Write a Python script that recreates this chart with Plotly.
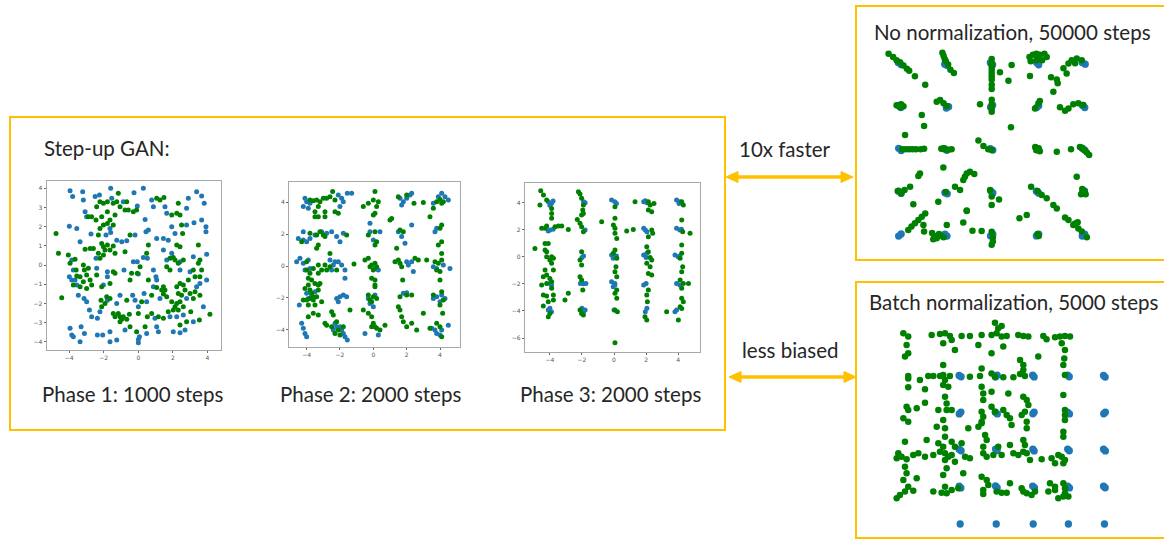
import plotly.graph_objects as go

# ---------------------------------------------------------------------------
# Sample data: blue = real samples (25-Gaussian grid), green = generated samples
# ---------------------------------------------------------------------------

phase1_real = [
    (-3.95, 3.88), (-3.8, 3.57), (-3.22, 3.83), (-3.18, 3.39), (-2.5, 3.57), (-2.25, 3.65),
    (-1.6, 4.0), (-1.54, 3.48), (-0.87, 3.3), (-0.25, 3.77), (0.29, 4.0), (-0.06, 3.08),
    (0.77, 3.39), (0.87, 3.04), (1.54, 3.04), (1.64, 2.7), (2.89, 3.48), (3.37, 3.83),
    (3.66, 3.6), (3.81, 3.22), (2.79, 2.96),
    (-3.99, 2.03), (-3.56, 1.91), (-3.08, 2.78), (-2.99, 2.52), (-2.74, 1.62), (-1.87, 1.57),
    (-1.64, 1.91), (-1.6, 1.7), (-1.25, 1.3), (-0.96, 1.22), (-0.67, 1.27), (-0.19, 1.57),
    (0.39, 2.38), (0.44, 1.74), (0.58, 1.83), (1.06, 1.39), (1.45, 1.39), (1.73, 1.3),
    (1.93, 2.0), (2.12, 1.65), (2.79, 2.09), (3.22, 2.21), (3.66, 2.35), (3.91, 2.0),
    (3.91, 1.74), (3.95, 0.57),
    (-3.37, 1.22), (-3.85, 0.26), (-3.76, -0.26), (-3.99, -0.61), (-3.85, -0.78), (-3.66, -0.78),
    (-3.56, -1.04), (-3.47, -1.57), (-3.14, -1.74), (-2.99, -1.91), (-2.45, 0.35), (-2.41, -0.17),
    (-1.79, -0.35), (-1.79, -0.61), (-2.02, -1.04), (-0.83, -0.26), (-0.29, 0.17), (-0.06, 0.17),
    (0.0, -0.47), (0.29, 0.4), (0.52, 0.35), (0.87, -0.26), (1.02, -0.61), (1.45, 0.78),
    (1.64, 0.26), (1.93, 0.61), (2.41, -0.26), (2.41, 0.17), (2.99, -0.35), (3.18, 0.43),
    (3.56, -0.96), (3.95, -0.78),
    (-2.83, -2.35), (-2.7, -2.7), (-2.37, -2.78), (-2.22, -2.43), (-1.79, -1.83), (-1.25, -2.0),
    (-1.06, -1.57), (-0.33, -1.57), (-0.19, -1.83), (0.0, -2.17), (0.33, -1.48), (0.48, -1.91),
    (0.87, -1.13), (1.06, -0.78), (0.96, -2.78), (1.25, -1.74), (1.83, -2.7), (2.22, -2.7),
    (2.6, -2.61), (2.79, -1.74), (3.37, -1.13), (3.76, -2.17), (3.18, -2.96),
    (-3.95, -3.3), (-3.85, -3.65), (-3.76, -3.74), (-3.37, -4.0), (-3.31, -3.22), (-3.12, -3.57),
    (-2.37, -3.65), (-2.06, -3.65), (-1.64, -3.48), (-1.64, -4.0), (-1.25, -3.91), (-0.77, -3.39),
    (0.0, -3.88), (0.0, -4.05), (0.06, -3.74), (0.48, -3.57), (1.06, -3.22), (1.16, -3.48),
    (2.02, -3.48), (2.41, -3.53), (2.7, -3.39),
]

phase1_fake = [
    (-4.76, 1.65), (-4.62, 0.61), (-4.43, -1.7), (-4.05, 0.52), (-3.95, 0.09), (-3.66, 0.3),
    (-3.6, -0.26), (-3.56, -0.57), (-3.37, -1.13), (-3.18, 0.0), (-3.12, -0.26), (-2.99, -0.52),
    (-2.89, -0.17), (-2.79, -0.78), (-3.08, 0.82), (-2.79, 0.87), (-2.6, 0.87), (-2.31, 0.61),
    (-2.22, 0.35), (-2.02, 0.52), (-2.12, 1.13), (-2.02, 0.96), (-1.93, 0.78), (-1.79, 1.04),
    (-1.64, 0.78), (-1.45, 0.99), (-1.35, 0.61), (-2.31, 1.57), (-2.22, 1.91), (-2.02, 2.09),
    (-1.79, 2.17), (-1.64, 2.35), (-1.45, 2.09), (-2.12, 2.52), (-2.45, 2.35), (-2.7, 2.52),
    (-2.02, 3.22), (-1.79, 3.3), (-1.45, 3.22), (-1.25, 3.3), (-1.16, 3.74), (-1.06, 3.04),
    (-0.67, 3.3), (-0.58, 2.87), (-0.29, 2.78), (-0.1, 2.87), (-0.77, 2.87), (-1.79, 2.78),
    (-1.35, 2.61), (-2.41, 3.04), (-2.22, 3.3), (-2.89, 2.52), (-0.77, 0.7), (-0.48, 1.57),
    (0.58, 1.04), (0.48, 0.61), (0.1, -0.09), (-0.06, -0.43), (0.58, -0.78),
    (1.06, 3.48), (1.25, 3.39), (1.48, 3.53), (2.31, 3.22), (2.41, 2.61), (2.22, 2.7),
    (1.93, 2.61), (2.5, 2.09), (2.56, 1.65), (2.22, 1.04), (2.41, 0.96), (1.83, 0.35),
    (2.02, 0.4), (2.12, 0.26), (2.31, 0.09), (1.64, -0.09), (1.83, -0.26), (2.6, 0.26),
    (3.47, 1.04), (3.56, 0.26), (3.47, 0.09), (3.18, -0.26), (3.28, -0.61), (3.56, -0.61),
    (3.66, -0.26), (2.89, -0.78), (2.6, -1.04), (2.41, -0.96), (2.7, -1.3), (2.99, -1.48),
    (3.18, -1.74), (3.28, -1.39), (3.56, -1.57), (1.45, -1.13), (1.54, -1.3), (1.35, -1.3),
    (1.45, -1.51), (1.64, -1.65), (1.93, -1.91), (2.22, -2.0), (2.12, -2.17), (2.31, -2.35),
    (2.02, -2.35), (2.6, -2.17), (2.41, -1.91), (2.5, -1.57), (2.31, -1.48), (2.22, -1.13),
    (1.73, -2.43), (1.45, -2.78), (3.03, -2.43), (3.53, -2.87), (4.14, -2.56), (2.79, -2.96),
    (2.41, -3.13),
    (-2.41, -0.52), (-2.12, -1.13), (-1.64, -0.96), (-1.45, -0.35), (-1.35, -0.43), (-2.7, -1.04),
    (-3.18, -0.87), (-2.99, -1.22), (-3.37, -0.61), (-3.76, -1.04), (-1.83, -1.65), (-1.64, -1.74),
    (-2.16, -1.83), (-2.12, -2.17), (-1.93, -2.0), (-1.45, -2.52), (-1.35, -2.7), (-1.16, -2.52),
    (-1.06, -2.7), (-0.96, -2.83), (-0.87, -2.7), (-0.67, -2.83), (-0.52, -2.56), (0.0, -2.52),
    (-1.06, -2.96), (-0.48, -3.22), (-0.1, -3.48), (0.39, -3.22), (0.52, -2.7), (0.77, -2.52),
    (1.16, -2.7), (-0.67, -1.83), (-0.48, -0.78), (0.19, -1.91), (0.77, -1.57), (1.06, -1.17),
    (-0.39, -0.43),
]

phase2_real = [
    (-4.1, 4.24), (-4.0, 4.03), (-4.2, 3.72), (-3.9, 3.61), (-3.8, 3.93), (-2.1, 4.45),
    (-1.9, 4.24), (-1.8, 4.03), (-1.56, 4.55), (-1.3, 4.55), (-2.0, 3.72), (1.6, 4.24),
    (1.8, 4.03), (2.0, 4.24), (2.2, 4.45), (2.3, 4.55), (1.7, 3.82), (3.6, 3.93),
    (4.1, 4.55), (4.3, 4.34), (4.5, 4.13), (3.9, 4.34),
    (-4.5, 1.73), (-4.2, 2.15), (-4.2, 1.63), (-4.0, 1.52), (-3.8, 1.73), (-3.5, 1.94),
    (-3.1, 2.15), (-2.8, 2.05), (-2.5, 2.15), (-2.2, 1.84), (-2.0, 1.52), (-1.8, 2.05),
    (-0.2, 2.67), (-0.2, 2.15), (0.0, 1.63), (0.4, 2.15), (1.5, 2.15), (1.7, 1.84),
    (1.9, 1.42), (2.3, 2.57), (3.7, 2.15), (3.8, 2.36),
    (-4.6, 0.27), (-4.4, 0.48), (-4.2, 0.17), (-4.1, -0.25), (-3.8, -0.15), (-3.9, 0.38),
    (-2.6, 0.38), (-2.4, 0.06), (-2.3, 0.27), (-2.1, 0.27), (-1.9, 0.06), (-1.7, -0.25),
    (-2.5, -0.25), (-1.7, -0.77), (0.1, -0.15), (0.3, -0.25), (2.0, 0.27), (2.1, 0.06),
    (2.3, 0.27), (2.4, -0.35), (3.6, -0.04), (3.8, -0.15), (4.2, 0.06), (4.6, -0.15),
    (-4.0, -1.71), (-3.9, -2.03), (-3.7, -1.82), (-3.5, -1.61), (-4.44, -2.44), (-2.2, -2.03),
    (-2.0, -1.92), (-1.8, -1.82), (-1.6, -1.92), (-2.1, -2.24), (-0.3, -2.03), (-0.2, -2.34),
    (0.0, -2.55), (0.1, -1.82), (1.8, -1.71), (2.0, -1.67), (3.6, -2.03), (3.8, -1.92),
    (4.1, -1.82), (4.3, -2.03), (4.0, -2.24),
    (-4.3, -3.59), (-4.2, -3.9), (-4.1, -4.22), (-4.0, -4.43), (-2.3, -3.59), (-2.2, -3.8),
    (-2.0, -3.8), (-1.9, -4.0), (-1.8, -4.22), (-1.7, -4.43), (-1.56, -4.63), (-2.4, -4.0),
    (-0.5, -4.22), (0.3, -4.32), (3.5, -3.9), (3.7, -4.0), (3.8, -4.22), (4.0, -4.32),
    (4.1, -4.0), (4.5, -3.7),
]

phase2_fake = [
    (-3.8, 4.13), (-3.6, 4.09), (-3.4, 4.13), (-3.2, 4.03), (-3.0, 4.24), (-2.8, 4.24),
    (-2.6, 4.34), (-2.44, 4.66), (-2.3, 4.13), (-3.3, 3.72), (-2.9, 3.4), (-2.3, 3.4),
    (-3.5, 3.09), (-3.3, 3.09), (-2.9, 3.09), (-3.5, 3.4), (-2.1, 3.3), (-0.6, 3.72),
    (-0.3, 3.93), (0.0, 4.13), (0.1, 4.66), (0.2, 3.72), (0.3, 4.03), (0.1, 3.3),
    (0.0, 3.19), (1.0, 2.88), (1.1, 2.98), (1.5, 4.34), (2.0, 4.45), (2.44, 3.93),
    (3.0, 3.97), (3.6, 3.61), (3.8, 4.03), (4.0, 4.17), (4.2, 4.03), (4.1, 3.93),
    (3.4, 3.09),
    (-4.3, 1.52), (-3.8, 2.05), (-3.4, 1.94), (-3.2, 2.15), (-3.0, 1.94), (-2.9, 1.84),
    (-3.3, 1.32), (-3.4, 1.11), (-2.6, 0.79), (-1.6, 1.94), (-0.3, 1.94), (0.1, 2.15),
    (0.2, 1.52), (0.1, 1.32), (1.6, 2.25), (1.8, 2.15), (1.4, 1.11), (4.1, 2.57),
    (4.0, 2.36), (4.1, 1.52), (3.9, 1.32), (4.1, 0.79),
    (-4.0, 0.27), (-4.0, -0.25), (-3.8, -0.46), (-3.7, -0.88), (-3.9, -0.77), (-3.6, -0.15),
    (-3.3, 0.06), (-3.1, -0.25), (-3.3, -0.46), (-3.5, -1.09), (-3.2, -1.09), (-2.8, -0.25),
    (-2.9, 0.06), (-2.6, -0.04), (-2.2, -0.25), (-1.16, 0.13), (-0.5, 0.38), (-0.3, 0.48),
    (-0.2, -0.04), (-0.1, 0.06), (0.1, 0.17), (0.0, -0.25), (0.2, -0.04), (-0.1, -0.77),
    (0.1, -0.88), (0.1, -1.19), (1.3, 0.27), (1.5, 0.38), (1.6, 0.17), (1.7, -0.04),
    (2.5, 0.48), (2.7, 0.38), (3.2, 0.38), (3.7, 0.27), (3.9, 0.17), (4.1, 0.38),
    (4.0, -0.35), (3.8, -0.25), (4.0, -0.88), (1.76, -0.88),
    (-4.1, -1.4), (-3.9, -1.19), (-3.8, -1.5), (-3.7, -1.71), (-3.6, -1.92), (-3.8, -2.03),
    (-3.6, -2.13), (-3.4, -1.92), (-4.0, -2.13), (-3.9, -2.44), (-3.5, -2.44), (-4.2, -2.13),
    (-3.3, -1.5), (-3.1, -2.24), (-3.3, -1.19), (-0.3, -1.82), (0.0, -1.92), (-0.2, -2.13),
    (-0.1, -2.24), (0.2, -2.03), (0.1, -1.3), (1.6, -1.92), (2.0, -1.82), (1.5, -2.55),
    (1.6, -2.76), (2.3, -1.82), (3.6, -1.82), (4.1, -1.61), (4.2, -2.13), (4.0, -2.44),
    (-1.4, -2.76),
    (-3.9, -3.17), (-3.6, -2.96), (-3.3, -3.07), (-2.9, -3.59), (-2.8, -3.7), (-2.5, -2.86),
    (-2.4, -3.07), (-2.2, -3.49), (-2.5, -3.8), (-2.3, -4.22), (-2.1, -4.0), (-2.0, -4.32),
    (-1.8, -3.8), (-0.6, -2.76), (-0.3, -2.96), (-0.1, -3.17), (0.0, -3.59), (0.1, -3.8),
    (-0.1, -3.8), (0.2, -3.9), (0.7, -3.7), (0.4, -4.0), (1.7, -3.17), (1.8, -3.49),
    (2.0, -3.8), (2.3, -3.59), (2.6, -4.0), (3.0, -2.96), (3.4, -3.9), (4.0, -3.8),
    (4.16, -2.96), (4.1, -4.43), (3.8, -3.59),
]

phase3_real = [
    (-4.1, 4.05), (-3.9, 3.93), (-4.0, 3.8), (-3.8, 4.1),
    (-4.0, 1.97), (-3.8, 2.02), (-4.1, 1.9),
    (-4.0, -1.97), (-3.9, -2.1),
    (-4.1, -3.93), (-4.0, -3.8), (-3.9, -4.05),
    (-1.9, 4.05), (-1.8, 3.98), (-1.8, 1.97), (-2.0, -0.05), (-1.9, 0.05),
    (-2.1, -1.97), (-1.9, -2.0), (-1.75, -1.97), (-2.0, -3.8), (-1.9, -4.05), (-1.8, -3.93),
    (-0.15, 4.18), (0.05, 4.05), (0.15, 3.93), (-0.15, 0.12), (0.05, 0.0), (0.15, 0.05),
    (-0.05, -0.12), (-0.15, -1.84), (0.05, -2.09), (-0.05, -2.21), (0.05, -1.97), (0.0, -3.93),
    (1.85, 4.05), (2.05, 3.98), (1.95, 4.13), (1.85, 2.09), (1.95, 1.97), (2.05, 1.84),
    (1.85, 0.12), (2.05, 0.25), (2.0, -0.05), (1.85, -2.09), (2.0, -1.97), (2.05, -3.8),
    (1.95, -4.05),
    (3.9, 4.18), (4.1, 4.05), (4.05, 3.93), (3.9, 2.09), (4.1, 1.97), (4.2, 2.02),
    (3.8, 0.12), (4.0, 0.0), (4.1, 0.05), (3.9, -1.97), (4.1, -2.09), (3.9, -3.93),
    (3.8, -4.05),
]

phase3_fake = [
    (-4.57, 4.86), (-4.4, 4.55), (-4.62, 3.81), (-4.2, 4.18), (-3.89, 3.56), (-3.89, 3.19),
    (-3.89, 2.83), (-4.51, 2.09), (-4.3, 2.09), (-4.2, 2.26), (-3.68, 2.21), (-3.47, 2.26),
    (-3.26, 2.26), (-2.85, 2.01), (-4.93, 0.61), (-4.3, 0.98), (-4.1, 0.98), (-4.3, 0.49),
    (-4.2, 0.37), (-4.2, 0.0), (-3.89, 0.0), (-4.0, -0.25), (-3.78, -0.12), (-3.89, -0.49),
    (-4.3, -0.98), (-3.78, -0.98), (-4.41, -1.47), (-4.2, -1.35), (-4.0, -1.6), (-4.2, -1.97),
    (-3.89, -1.84), (-4.51, -2.09), (-3.89, -2.33), (-4.41, -2.83), (-4.2, -2.9), (-3.78, -2.83),
    (-3.78, -3.19), (-4.1, -3.32), (-4.41, -3.64), (-4.0, -4.18), (-4.1, -4.42), (-2.85, -2.7),
    (-3.06, -3.19),
    (-2.22, 4.79), (-2.12, 4.62), (-2.02, 4.3), (-1.91, 3.81), (-1.95, 3.44), (-2.02, 3.07),
    (-1.91, 3.19), (-2.29, 2.75), (-2.12, 2.46), (-2.02, 2.21), (-1.91, 1.84), (-2.02, 0.37),
    (-2.12, -0.25), (-2.02, -0.61), (-2.12, -1.47), (-2.02, -1.72), (-1.95, -2.46),
    (-2.12, -3.93), (-2.02, -4.18), (-1.91, -4.3),
    (0.06, 3.69), (0.06, 2.83), (-0.04, 2.33), (0.06, 2.09), (0.06, 1.72), (0.17, 1.35),
    (-0.77, 2.58), (0.79, 1.89), (1.2, 2.01), (0.06, 0.49), (-0.04, 0.25), (0.17, -0.12),
    (0.12, -0.74), (0.06, -1.11), (0.17, -1.47), (0.17, -2.46), (0.06, -2.7), (0.17, -3.07),
    (0.06, -3.93), (0.21, -4.05), (0.06, -6.34),
    (1.31, 4.05), (2.14, 4.05), (2.25, 3.81), (2.14, 3.44), (2.35, 3.32), (2.49, 3.93),
    (2.35, 1.97), (2.41, 1.72), (2.14, 1.47), (2.04, 0.74), (2.14, 0.37), (2.25, -0.05),
    (2.35, -0.25), (2.04, -0.49), (2.25, -0.74), (2.14, -1.23), (2.35, -1.35), (2.14, -2.46),
    (2.04, -2.83), (2.08, -3.32), (1.93, -4.42), (2.04, -4.67), (3.28, -4.05),
    (4.22, 4.05), (4.32, 3.81), (4.22, 2.7), (4.28, 1.84), (4.74, 1.72), (4.22, 0.86),
    (4.22, 0.25), (4.12, -0.12), (4.28, -0.74), (4.22, -1.11), (4.12, -1.72), (4.32, -1.97),
    (4.64, -1.97), (4.22, -2.33), (4.22, -3.07), (4.32, -3.32), (4.12, -3.69), (4.01, -4.67),
    (4.22, -3.81),
]

no_norm_real = [
    (-4.08, 4.04), (-3.95, 3.94), (-2.05, 3.96), (-1.94, 3.9), (-0.06, 4.03), (0.04, 3.94),
    (2.05, 3.93), (1.96, 4.04), (4.08, 3.96), (3.95, 4.04),
    (-4.06, 2.04), (-3.96, 1.94), (-1.98, 1.92), (-1.88, 1.98), (-0.05, 1.96), (0.04, 2.05),
    (1.96, 1.94), (2.05, 2.03), (4.06, 1.94), (3.96, 2.04),
    (-4.06, 0.04), (-3.95, -0.06), (-2.06, 0.02), (-1.96, -0.05), (-0.06, 0.03), (0.05, -0.04),
    (1.94, 0.05), (2.04, -0.03), (3.95, 0.05), (4.06, -0.04),
    (-4.06, -1.96), (-3.95, -2.06), (-2.04, -2.03), (-1.94, -2.08), (-0.04, -1.95), (0.05, -2.04),
    (1.95, -1.96), (2.05, -2.05), (3.96, -2.04), (4.05, -1.94),
    (-4.06, -4.05), (-3.95, -3.95), (-2.04, -3.96), (-1.95, -4.05), (-0.05, -4.04), (0.05, -3.96),
    (1.95, -4.04), (2.05, -3.96), (3.95, -4.05), (4.06, -3.96),
]

no_norm_fake = [
    (-4.5, 4.45), (-4.3, 4.3), (-4.15, 4.15), (-4.0, 4.05), (-3.85, 3.9), (-3.7, 3.75),
    (-3.6, 3.65), (-3.35, 3.4), (-2.9, 3.0),
    (-2.15, 4.5), (-2.1, 4.35), (-2.05, 4.2), (-2.0, 4.1), (-1.9, 3.95), (-1.8, 3.7),
    (-1.65, 3.55),
    (0.0, 4.2), (0.0, 4.0), (0.0, 3.85), (0.0, 3.7), (0.0, 3.55), (0.0, 3.4), (0.0, 3.25),
    (0.0, 3.0), (0.0, 2.8), (0.36, 3.58), (0.73, 3.19), (0.87, 3.92),
    (1.65, 4.3), (1.8, 4.4), (1.95, 4.45), (2.1, 4.4), (2.3, 4.45), (2.4, 4.3), (1.7, 4.1),
    (1.95, 4.15), (2.2, 4.15), (2.0, 4.3), (1.67, 3.41), (2.59, 3.35), (2.84, 3.25),
    (2.88, 3.07), (2.69, 2.68),
    (3.49, 4.15), (3.71, 4.23), (3.93, 4.15), (3.35, 3.99), (3.13, 3.77), (3.27, 3.53),
    (3.64, 4.0),
    (-4.15, 2.05), (-4.0, 1.95), (-3.85, 2.0), (-3.95, 2.1), (-3.05, 1.59), (-2.95, 1.08),
    (-3.78, 0.66),
    (-2.4, 2.21), (-2.25, 2.29), (-2.1, 2.14), (-1.96, 2.01),
    (0.0, 2.3), (0.0, 2.1), (0.0, 1.9), (0.0, 1.75), (-0.51, 2.09),
    (2.04, 2.14), (1.89, 1.9), (2.1, 2.25), (0.84, 1.02),
    (3.56, 2.1), (3.78, 2.14), (4.0, 2.06), (2.98, 1.95), (3.2, 1.79), (3.35, 1.9),
    (-3.9, 0.0), (-3.75, 0.0), (-3.6, 0.0), (-3.45, 0.0), (-3.3, 0.0), (-3.1, 0.0),
    (-2.95, 0.02),
    (-2.2, 0.02), (-2.05, 0.0), (-1.9, -0.02), (-1.75, 0.0), (-2.1, 0.05),
    (-0.58, 0.4), (-0.36, 0.15), (-0.15, 0.0), (0.0, -0.04),
    (1.9, 0.1), (2.05, 0.05), (2.1, -0.1), (1.95, -0.05), (2.84, -0.12), (3.46, 0.0),
    (3.85, 0.1), (3.95, 0.05), (4.05, -0.05), (4.15, -0.15), (4.25, -0.27), (3.71, -1.28),
    (-4.1, -1.95), (-3.95, -2.05), (-3.8, -1.9), (-3.56, -1.75), (-3.42, -2.57), (-3.13, -1.13),
    (-3.2, -1.25),
    (-2.0, -2.0), (-2.33, -2.45), (-2.11, -0.85), (-1.6, -1.75), (-1.38, -1.9), (-1.24, -1.44),
    (-1.09, -1.13), (-0.95, -1.05), (-0.76, -1.16), (-1.17, -1.28),
    (-0.07, -1.9), (0.0, -2.2), (0.32, -2.34), (0.0, -2.6), (-1.09, -2.88),
    (1.72, -1.75), (2.0, -1.95), (2.18, -2.14), (2.4, -2.29), (2.69, -2.6), (2.84, -2.76),
    (3.95, -1.85), (4.05, -2.0), (4.1, -2.1), (3.9, -2.1), (3.2, -3.18), (3.64, -3.46),
    (3.75, -3.4),
    (-3.64, -3.77), (-3.5, -3.6), (-3.35, -3.45), (-3.2, -3.3), (-3.05, -3.15), (-2.9, -3.0),
    (-2.98, -3.53), (-2.95, -3.84),
    (-2.6, -3.9), (-2.5, -4.05), (-2.4, -4.15), (-2.55, -4.2), (-2.3, -3.95), (-2.2, -4.05),
    (-2.1, -4.1), (-1.96, -3.53), (-1.24, -3.42), (-1.09, -2.86), (-0.84, -3.8), (-0.44, -3.81),
    (0.0, -3.85), (0.05, -4.1), (0.05, -4.3), (0.0, -4.45), (1.21, -3.22), (1.53, -3.07),
    (2.0, -3.95), (2.05, -4.05),
    (3.35, -3.3), (3.56, -3.53), (3.78, -3.69), (3.93, -3.84), (4.15, -4.1),
]

batch_norm_real = [
    (-4.06, 4.03), (-3.95, 3.96), (-2.04, 3.94), (-1.95, 4.04), (0.02, 4.04), (0.1, 3.95),
    (2.05, 3.96), (1.96, 4.05), (4.04, 3.94), (3.95, 4.03),
    (-4.05, 1.95), (-3.96, 2.05), (-2.05, 2.04), (-1.94, 1.95), (0.03, 1.96), (0.1, 2.04),
    (1.95, 2.05), (2.06, 1.95), (3.96, 1.96), (4.05, 2.04),
    (-4.06, 0.04), (-3.95, -0.04), (-2.04, 0.05), (-1.95, -0.03), (0.03, 0.04), (0.1, -0.05),
    (1.96, 0.05), (2.05, -0.04), (3.95, 0.04), (4.05, -0.05),
    (-4.05, -1.96), (-3.96, -2.05), (-2.04, -1.94), (-1.95, -2.04), (0.02, -1.95), (0.12, -2.04),
    (1.96, -1.96), (2.06, -2.05), (3.95, -1.96), (4.04, -2.04),
    (-4.0, -4.0), (-2.0, -4.0), (0.05, -4.0), (2.0, -4.0), (4.0, -4.0),
]

batch_norm_fake = [
    (-7.15, 6.31), (-6.88, 6.13), (-5.58, 6.22), (-5.12, 6.27), (-4.84, 6.31), (-4.57, 6.16),
    (-4.47, 5.95), (-3.92, 6.16), (-3.46, 6.16), (-2.81, 6.22), (-2.26, 6.22), (-1.98, 6.31),
    (-1.7, 6.13), (-1.42, 6.16), (-0.78, 6.22), (-0.5, 6.16), (-0.22, 6.13), (0.61, 6.16),
    (0.79, 5.98), (1.26, 6.09), (1.53, 6.13), (1.81, 6.16), (2.09, 6.13), (-2.07, 6.88),
    (-1.7, 6.7), (-1.89, 6.58),
    (-6.97, 5.68), (-6.88, 5.23), (-7.06, 5.05), (-4.94, 5.77), (-4.29, 5.41), (-2.99, 5.68),
    (-2.26, 5.23), (-1.61, 5.59), (-0.68, 4.86), (-0.5, 4.59), (0.33, 5.05), (1.63, 5.77),
    (1.81, 5.41), (1.77, 4.95), (1.72, 4.59),
    (-6.88, 4.0), (-6.88, 3.87), (-6.23, 3.78), (-5.77, 4.0), (-5.49, 4.0), (-5.12, 4.0),
    (-4.94, 4.05), (-4.84, 3.78), (-4.57, 4.0), (-3.46, 3.96), (-2.9, 4.0), (-2.81, 4.41),
    (-2.26, 4.14), (-2.07, 3.96), (-1.61, 3.93), (-1.05, 3.93), (-0.68, 4.11), (-0.5, 4.32),
    (-0.41, 4.0), (1.81, 4.05), (-4.94, 4.59),
    (-6.88, 3.39), (-5.95, 3.28), (-4.94, 3.51), (-4.66, 3.42), (-4.84, 2.88), (-4.75, 2.52),
    (-2.81, 3.42), (-2.72, 3.06), (-2.72, 2.7), (-2.26, 3.15), (-1.33, 3.06), (-0.5, 2.88),
    (-0.31, 2.7), (-0.22, 2.43), (1.72, 2.97), (-5.95, 2.56), (-6.41, 2.25),
    (-6.97, 2.34), (-6.88, 2.16), (-7.15, 1.71), (-6.88, 1.53), (-5.21, 2.16), (-4.75, 2.16),
    (-4.47, 2.16), (-4.94, 1.62), (-2.81, 2.07), (-2.72, 1.8), (-2.81, 1.53), (-2.26, 2.34),
    (-2.07, 2.07), (-1.61, 2.16), (-1.42, 1.89), (-1.24, 1.71), (-1.15, 1.35), (-0.59, 1.89),
    (-0.41, 2.07), (-0.31, 1.53), (-0.31, 1.17), (1.81, 2.16), (1.81, 1.89), (1.81, 1.62),
    (1.72, 0.99), (1.72, 0.72), (-5.3, 1.26), (-4.84, 1.17), (-3.55, 1.17), (-2.99, 1.26),
    (-2.81, 1.44),
    (-7.06, 0.45), (-5.86, 0.54), (-5.21, 0.36), (-4.84, 0.72), (-4.94, 0.18), (-4.47, 0.45),
    (-4.29, 0.18), (-3.92, 0.36), (-2.62, 0.81), (-2.53, 0.54), (-2.72, 0.18), (-1.89, 0.18),
    (-1.24, 0.27), (-0.5, 0.54), (-0.41, 0.27),
    (-7.43, -0.18), (-7.52, -0.45), (-7.25, -0.36), (-6.97, -0.5), (-6.6, -0.27), (-6.32, -0.18),
    (-5.95, -0.36), (-5.49, -0.27), (-5.12, -0.09), (-4.84, -0.18), (-4.66, -0.36), (-4.47, -0.27),
    (-4.84, -0.54), (-4.29, -0.63), (-3.73, -0.36), (-3.46, -0.45), (-2.72, -0.18), (-2.53, -0.36),
    (-2.16, -0.27), (-1.7, -0.27), (-1.05, -0.18), (-0.78, -0.27), (-0.5, -0.09), (-0.31, -0.18),
    (-0.13, -0.54), (0.52, -0.5), (1.07, -0.45), (1.26, -0.72), (1.63, -0.36), (1.72, -0.72),
    (1.81, -0.54), (1.44, -0.27),
    (-7.06, -0.9), (-6.97, -1.26), (-7.15, -1.62), (-6.41, -1.53), (-4.94, -1.35), (-4.75, -0.99),
    (-3.83, -1.26), (-2.81, -1.44), (-2.53, -1.62), (-2.44, -1.89), (-1.24, -1.8), (0.98, -1.8),
    (1.26, -1.98), (1.72, -1.8), (1.81, -2.07),
    (-7.52, -2.61), (-7.34, -2.43), (-7.06, -2.25), (-6.88, -1.98), (-6.6, -2.2), (-5.49, -2.25),
    (-5.03, -2.31), (-4.84, -1.98), (-4.75, -2.34), (-4.47, -2.16), (-4.1, -2.07), (-2.72, -2.16),
    (-2.72, -2.38), (-1.98, -2.25), (-1.7, -2.31), (-1.42, -2.31), (-0.59, -2.07), (-0.5, -2.25),
    (-0.31, -2.34), (-0.04, -2.43), (0.15, -2.25), (0.89, -2.25), (1.44, -2.61), (1.72, -2.52),
    (1.81, -2.34), (2.0, -2.52), (1.26, -2.16),
]

# Text
main_title = "Step-up GAN:"
phase_labels = ["Phase 1: 1000 steps", "Phase 2: 2000 steps", "Phase 3: 2000 steps"]
right_titles = ["No normalization, 50000 steps", "Batch normalization, 5000 steps"]
arrow_labels = ["10x faster", "less biased"]

# ---------------------------------------------------------------------------
# Layout helpers (canvas is 1164 x 540 px)
# ---------------------------------------------------------------------------
W, H = 1164, 540
REAL = "#1f77b4"
FAKE = "#008000"
GOLD = "#FFC000"
TEXT = "#262626"
FONT = "Lato"


def px(x):
    return x / W


def py(y):
    return 1 - y / H


fig = go.Figure()

# frame in px (x0, x1, y0, y1), axis ranges, marker size, tick settings
panels = [
    dict(data=(phase1_real, phase1_fake), box=(46.7, 221.0, 180.7, 350.0),
         xr=[-5.3, 4.78], yr=[-4.43, 4.4], size=5.0, xt=[-4, -2, 0, 2, 4],
         yt=[-4, -3, -2, -1, 0, 1, 2, 3, 4], axes=True),
    dict(data=(phase2_real, phase2_fake), box=(289.3, 460.0, 182.3, 346.7),
         xr=[-5.04, 5.2], yr=[-5.05, 5.24], size=5.0, xt=[-4, -2, 0, 2, 4],
         yt=[-4, -2, 0, 2, 4], axes=True),
    dict(data=(phase3_real, phase3_fake), box=(525.0, 700.0, 183.3, 351.7),
         xr=[-5.55, 5.36], yr=[-7.0, 5.41], size=5.0, xt=[-4, -2, 0, 2, 4],
         yt=[-6, -4, -2, 0, 2, 4], axes=True),
    dict(data=(no_norm_real, no_norm_fake), box=(877.1, 1106.3, 41.9, 256.5),
         xr=[-5, 5], yr=[-5, 5], size=6.5, axes=False),
    dict(data=(batch_norm_real, batch_norm_fake), box=(879.0, 1122.5, 311.25, 538.8),
         xr=[-8.5, 5], yr=[-4.8, 7.5], size=6.5, axes=False),
]

layout_axes = {}
for i, p in enumerate(panels, start=1):
    real, fake = p["data"]
    xa = "x" if i == 1 else f"x{i}"
    ya = "y" if i == 1 else f"y{i}"
    real_size = p["size"] + (0.8 if not p["axes"] else 0)
    fig.add_trace(go.Scatter(
        x=[a for a, _ in real], y=[b for _, b in real], mode="markers",
        marker=dict(color=REAL, size=real_size, line=dict(width=0)),
        xaxis=xa, yaxis=ya, hoverinfo="skip", showlegend=False))
    fig.add_trace(go.Scatter(
        x=[a for a, _ in fake], y=[b for _, b in fake], mode="markers",
        marker=dict(color=FAKE, size=p["size"], line=dict(width=0)),
        xaxis=xa, yaxis=ya, hoverinfo="skip", showlegend=False))

    x0, x1, y0, y1 = p["box"]
    common = dict(showgrid=False, zeroline=False, fixedrange=True)
    if p["axes"]:
        tick = dict(ticks="outside", ticklen=2, tickwidth=0.8, tickcolor="#666",
                    tickfont=dict(size=6, color="#555", family="DejaVu Sans"),
                    showline=True, mirror=True, linecolor="#a8a8a8", linewidth=1.4)
        xaxis = dict(domain=[px(x0), px(x1)], range=p["xr"], tickvals=p["xt"],
                     anchor=ya, **tick, **common)
        yaxis = dict(domain=[py(y1), py(y0)], range=p["yr"], tickvals=p["yt"],
                     anchor=xa, **tick, **common)
    else:
        xaxis = dict(domain=[px(x0), px(x1)], range=p["xr"], visible=False,
                     anchor=ya, **common)
        yaxis = dict(domain=[py(y1), py(y0)], range=p["yr"], visible=False,
                     anchor=xa, **common)
    layout_axes["xaxis" if i == 1 else f"xaxis{i}"] = xaxis
    layout_axes["yaxis" if i == 1 else f"yaxis{i}"] = yaxis

fig.update_layout(**layout_axes)

# ---------------------------------------------------------------------------
# Gold frames and double-headed arrows
# ---------------------------------------------------------------------------
shapes = []


def rect(x0, y0, x1, y1):
    shapes.append(dict(type="rect", xref="paper", yref="paper",
                       x0=px(x0), x1=px(x1), y0=py(y1), y1=py(y0),
                       line=dict(color=GOLD, width=2), fillcolor="rgba(0,0,0,0)",
                       layer="below"))


rect(10, 117, 725, 430)
rect(856, 6, 1175, 260)
rect(856, 282, 1175, 538)


def double_arrow(xa, xb, y, head_len=12, half_w=5.5):
    shapes.append(dict(type="line", xref="paper", yref="paper",
                       x0=px(xa + head_len - 2), x1=px(xb - head_len + 2), y0=py(y), y1=py(y),
                       line=dict(color=GOLD, width=3.5)))
    left = (f"M {px(xa)},{py(y)} L {px(xa + head_len)},{py(y - half_w)} "
            f"L {px(xa + head_len)},{py(y + half_w)} Z")
    right = (f"M {px(xb)},{py(y)} L {px(xb - head_len)},{py(y - half_w)} "
             f"L {px(xb - head_len)},{py(y + half_w)} Z")
    for path in (left, right):
        shapes.append(dict(type="path", xref="paper", yref="paper", path=path,
                           fillcolor=GOLD, line=dict(color=GOLD, width=1)))


double_arrow(726, 853, 177)
double_arrow(729, 856, 377)

fig.update_layout(shapes=shapes)

# ---------------------------------------------------------------------------
# Text labels
# ---------------------------------------------------------------------------
annotations = []


def label(text, x, y, anchor="center", size=20.5):
    annotations.append(dict(text=text, x=px(x), y=py(y), xref="paper", yref="paper",
                            xanchor=anchor, yanchor="middle", showarrow=False,
                            font=dict(family=FONT, size=size, color=TEXT)))


label(main_title, 42, 148, anchor="left")
for text, cx in zip(phase_labels, [132, 370, 610]):
    label(text, cx, 394)
label(right_titles[0], 1012, 32, size=20.5)
label(right_titles[1], 1013, 302, size=20.5)
label(arrow_labels[0], 785, 149)
label(arrow_labels[1], 790, 350)

fig.update_layout(
    annotations=annotations,
    width=W, height=H,
    margin=dict(l=0, r=0, t=0, b=0),
    paper_bgcolor="white", plot_bgcolor="white",
    showlegend=False,
)

fig.write_html("out.html", config={"displayModeBar": False})
